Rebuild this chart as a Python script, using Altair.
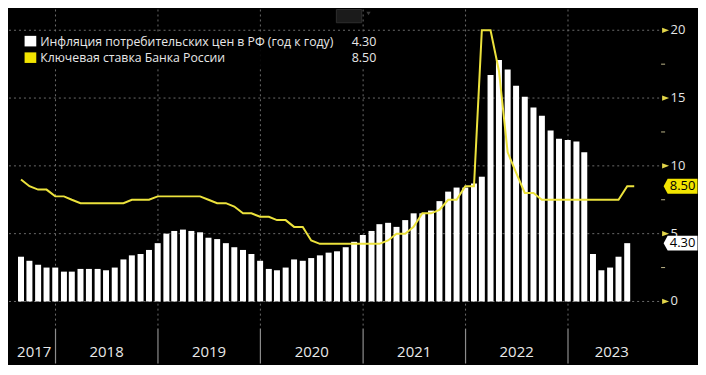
import altair as alt
import pandas as pd

# ---------------- data ----------------
cpi_first_month_end = "2017-08-31"
cpi = [3.3, 3.0, 2.7, 2.5, 2.5,
       2.2, 2.2, 2.4, 2.4, 2.4, 2.3, 2.5, 3.1, 3.4, 3.5, 3.8, 4.3,
       5.0, 5.2, 5.3, 5.2, 5.1, 4.7, 4.6, 4.3, 4.0, 3.8, 3.5, 3.0,
       2.4, 2.3, 2.5, 3.1, 3.0, 3.2, 3.4, 3.6, 3.7, 4.0, 4.4, 4.9,
       5.2, 5.7, 5.8, 5.5, 6.0, 6.5, 6.5, 6.7, 7.4, 8.1, 8.4, 8.4,
       8.7, 9.2, 16.7, 17.8, 17.1, 15.9, 15.1, 14.3, 13.7, 12.6, 12.0, 11.9,
       11.8, 11.0, 3.5, 2.3, 2.5, 3.3, 4.3]
key_rate = [9.0, 8.5, 8.25, 8.25, 7.75,
            7.75, 7.5, 7.25, 7.25, 7.25, 7.25, 7.25, 7.25, 7.5, 7.5, 7.5, 7.75,
            7.75, 7.75, 7.75, 7.75, 7.75, 7.5, 7.25, 7.25, 7.0, 6.5, 6.5, 6.25,
            6.25, 6.0, 6.0, 5.5, 5.5, 4.5, 4.25, 4.25, 4.25, 4.25, 4.25, 4.25,
            4.25, 4.25, 4.5, 5.0, 5.0, 5.5, 6.5, 6.5, 6.75, 7.5, 7.5, 8.5,
            8.5, 20.0, 20.0, 17.0, 11.0, 9.5, 8.0, 8.0, 7.5, 7.5, 7.5, 7.5,
            7.5, 7.5, 7.5, 7.5, 7.5, 7.5, 8.5]
key_rate_last_date = "2023-08-25"
key_rate_last = 8.5

series_names = ["Инфляция потребительских цен в РФ (год к году)",
                "Ключевая ставка Банка России"]
y_ticks = [0, 5, 10, 15, 20]
y_tick_labels = ["0", "5", "10", "15", "20"]
y_minor = [2.5, 7.5, 12.5, 17.5]
year_starts = ["2018-01-01", "2019-01-01", "2020-01-01",
               "2021-01-01", "2022-01-01", "2023-01-01"]
year_labels = ["2017", "2018", "2019", "2020", "2021", "2022", "2023"]
year_label_dates = ["2017-10-17", "2018-07-02", "2019-07-02", "2020-07-02",
                    "2021-07-02", "2022-07-02", "2023-06-06"]

# ---------------- layout / style ----------------
W, H = 654, 320
SX, SY = W / 669.3, H / 338.0
BG = "#000000"
YEL = "#ece23c"
YEL_BOX = "#f2e400"
GRID = "#6a6a6a"
FONT = "Open Sans"

month_ends = pd.date_range(cpi_first_month_end, periods=len(cpi),
                           freq=pd.offsets.MonthEnd())
dstr = [d.strftime("%Y-%m-%dT00:00:00") for d in month_ends]
df_cpi = pd.DataFrame({"date": dstr, "cpi": cpi})
df_rate = pd.DataFrame({"date": dstr + [key_rate_last_date + "T00:00:00"],
                        "rate": key_rate + [key_rate_last]})

xscale = alt.Scale(domain=[alt.DateTime(year=2017, month=8, date=6),
                           alt.DateTime(year=2023, month=11, date=11)])
yscale = alt.Scale(domain=[-2.0, 21.53], nice=False, zero=False)

quarter_ticks = []
for yr in range(2017, 2024):
    for m in (1, 4, 7, 10):
        if (yr, m) >= (2017, 10) and (yr, m) <= (2023, 10):
            quarter_ticks.append(alt.DateTime(year=yr, month=m, date=1))

x_axis = alt.Axis(orient="bottom", values=quarter_ticks, labels=False,
                  ticks=True, tickSize=3, tickColor="#d0d0d0",
                  domainColor="#d0d0d0", grid=False, title=None, zindex=2)
y_axis = alt.Axis(orient="right", values=y_ticks, ticks=False, grid=False,
                  labels=False, domainColor="#d6cd85", title=None, zindex=2)

X = lambda f: alt.X(f, type="temporal", scale=xscale, axis=None, title=None)
Y = lambda f: alt.Y(f, type="quantitative", scale=yscale, axis=None, title=None)
one = alt.Data(values=[{}])

# gridlines
hgrid = alt.Chart(pd.DataFrame({"v": y_ticks})).mark_rule(
    color=GRID, strokeDash=[2, 3], strokeWidth=1).encode(
    y=Y("v"), x=alt.value(0), x2=alt.value(W))
vgrid = alt.Chart(pd.DataFrame({"d": year_starts})).mark_rule(
    color=GRID, strokeDash=[2, 3], strokeWidth=1).encode(
    x=X("d"), y=alt.value(0), y2=alt.value(H))
ysep = alt.Chart(pd.DataFrame({"d": year_starts})).mark_rule(
    color="#8c8c8c", strokeWidth=1.2).encode(
    x=X("d"), y=alt.value(H), y2=alt.value(H + 35))

bars = alt.Chart(df_cpi).mark_bar(color="#ffffff", size=6).encode(
    x=alt.X("date:T", scale=xscale, axis=x_axis, title=None),
    y=alt.Y("cpi:Q", scale=yscale, axis=y_axis, title=None))

line = alt.Chart(df_rate).mark_line(color=YEL, strokeWidth=2).encode(
    x=X("date"), y=Y("rate"))

# legend box
leg_box = alt.Chart(one).mark_rect(fill=BG, opacity=0.9).encode(
    x=alt.value(0), x2=alt.value(384 * SX),
    y=alt.value(24 * SY), y2=alt.value(61 * SY))
legend_layers = [leg_box]
row_y = [33.5, 51.0]
row_col = ["#ffffff", YEL_BOX]
row_val = [f"{cpi[-1]:.2f}", f"{key_rate_last:.2f}"]
for i in range(2):
    cy = row_y[i] * SY
    legend_layers.append(alt.Chart(one).mark_rect(fill=row_col[i]).encode(
        x=alt.value(16 * SX), x2=alt.value(28 * SX),
        y=alt.value(cy - 5.3), y2=alt.value(cy + 5.3)))
    legend_layers.append(alt.Chart(one).mark_text(
        text=series_names[i], align="left", baseline="middle",
        font=FONT, fontSize=12.3, fill="#e8e8e8").encode(
        x=alt.value(32 * SX), y=alt.value(cy + 0.5)))
    legend_layers.append(alt.Chart(one).mark_text(
        text=row_val[i], align="right", baseline="middle",
        font=FONT, fontSize=12.5, fill="#e8e8e8").encode(
        x=alt.value(377 * SX), y=alt.value(cy + 0.5)))

# small chart-type icon at top
icon = alt.Chart(one).mark_rect(fill="#1b1b1b", stroke="#2e2e2e").encode(
    x=alt.value(336 * SX), x2=alt.value(362 * SX),
    y=alt.value(0), y2=alt.value(14 * SY))
icon_arrow = alt.Chart(one).mark_point(
    shape="triangle-down", filled=True, color="#555555", size=18).encode(
    x=alt.value(369 * SX), y=alt.value(4))

# right-axis decorations
minor = alt.Chart(pd.DataFrame({"v": y_minor})).mark_rule(
    color="#bdb68a", strokeWidth=1).encode(
    y=Y("v"), x=alt.value(W), x2=alt.value(W + 4))
tri = alt.Chart(pd.DataFrame({"v": y_ticks})).mark_point(
    shape="M -1 -0.75 L 1 0 L -1 0.75 Z", filled=True, color="#e3d64a",
    size=49, opacity=1).encode(y=Y("v"), x=alt.value(W + 4.5))
ytxt = alt.Chart(pd.DataFrame({"v": y_ticks, "t": y_tick_labels})).mark_text(
    font=FONT, fontSize=13, fill="#e6e6e6", align="left",
    baseline="middle").encode(
    y=Y("v"), x=alt.value(W + 9.5), text="t:N")

tag_shape = "M -1 0 L -0.76 -0.44 L 1 -0.44 L 1 0.44 L -0.76 0.44 Z"
tags = pd.DataFrame({"v": [key_rate_last, cpi[-1]],
                     "txt": [f"{key_rate_last:.2f}", f"{cpi[-1]:.2f}"],
                     "fill": [YEL_BOX, "#ffffff"]})
tag_box = alt.Chart(tags).mark_point(
    shape=tag_shape, filled=True, size=34 * 34, opacity=1).encode(
    y=Y("v"), x=alt.value(W + 2.5 + 17),
    fill=alt.Fill("fill:N", scale=None))
tag_txt = alt.Chart(tags).mark_text(
    font=FONT, fontSize=13, fill="#000000", align="center",
    baseline="middle").encode(
    y=Y("v"), x=alt.value(W + 2.5 + 4 + 15), text="txt:N")

# year labels
ylab = alt.Chart(pd.DataFrame({"d": year_label_dates, "t": year_labels})).mark_text(
    font=FONT, fontSize=15, fill="#e8e8e8", align="center",
    baseline="middle").encode(
    x=X("d"), y=alt.value(363 * SY), text="t:N")

chart = alt.layer(
    hgrid, vgrid, ysep, bars, line, *legend_layers, icon, icon_arrow,
    minor, tri, ytxt, tag_box, tag_txt, ylab
).properties(
    width=W, height=H, padding=0, background=BG
).configure(background=BG).configure_view(strokeWidth=0)

chart.save("out.html", embed_options={"renderer": "svg", "actions": False})
